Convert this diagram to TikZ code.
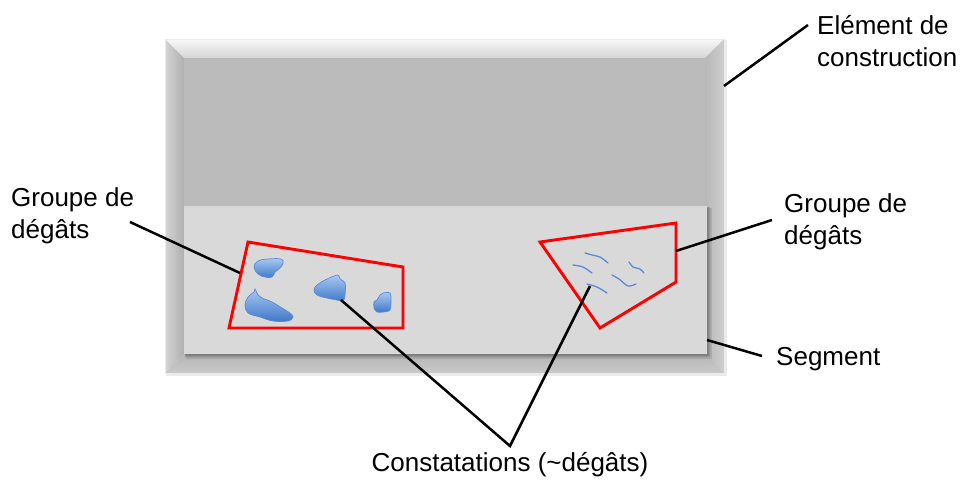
\documentclass[tikz,border=0pt]{standalone}
\usepackage{fontspec}
\setmainfont{Liberation Sans}
\usetikzlibrary{calc}
\definecolor{facegray}{HTML}{BBBBBB}
\definecolor{seggray}{HTML}{D9D9D9}
\definecolor{blobtop}{HTML}{A9C9F3}
\definecolor{blobbot}{HTML}{3F78C8}
\definecolor{blobedge}{HTML}{5A8BD2}
\definecolor{crackc}{HTML}{5B8BD0}
\begin{document}
\begin{tikzpicture}[x=1pt,y=-1pt,
  lbl/.style={font=\fontsize{26}{32}\selectfont, inner sep=0pt, align=left},
  leader/.style={draw=black, line width=2.5pt},
  grp/.style={draw=red, line width=2.9pt, line join=miter},
  blob/.style={draw=blobedge, line width=0.7pt, top color=blobtop, bottom color=blobbot},
  crack/.style={draw=crackc, line width=1.3pt, line cap=round}]
\useasboundingbox (0,0) rectangle (962,480);
\fill[white] (0,0) rectangle (962,480);
% construction element (bevelled box)
\fill[black!8] (166,40) rectangle (727,376);
\shade[top color=black!3, bottom color=black!16] (165,39) -- (724,39) -- (705,58) -- (184,58) -- cycle;
\shade[left color=black!17, right color=black!31] (165,39) -- (184,58) -- (184,354) -- (165,373) -- cycle;
\shade[left color=black!28, right color=black!19] (724,39) -- (724,373) -- (705,354) -- (705,58) -- cycle;
\shade[top color=black!29, bottom color=black!21] (165,373) -- (184,354) -- (705,354) -- (724,373) -- cycle;
\fill[facegray] (184,58) rectangle (705,354);
\draw[black!8, line width=0.8pt] (165,39) rectangle (724,373);
% segment with shadow
\fill[black, opacity=0.10] (186,208) rectangle (712,359);
\fill[black, opacity=0.10] (185,207) rectangle (710,357);
\fill[black, opacity=0.12] (185,207) rectangle (709,356);
\fill[seggray] (184,206) rectangle (707,354);
% damage groups
\draw[grp] (248,242) -- (403,267) -- (403,328) -- (229,328) -- cycle;
\draw[grp] (540,242) -- (676,223) -- (676,282) -- (600,328) -- cycle;
% blobs
\path[blob] plot[smooth cycle, tension=0.7] coordinates {(254,267) (258,261) (268,259) (281,259) (283,263) (280,268) (275,272) (272,277) (265,277) (258,274)};
\path[blob] plot[smooth cycle, tension=0.6] coordinates {(245,305) (248,297) (254,292) (255,289) (258,295) (262,298) (272,302) (282,308) (290,313) (293,317) (288,321) (273,321) (260,317) (248,313)};
\path[blob] plot[smooth cycle, tension=0.6] coordinates {(314,290) (317,285) (327,279) (338,275) (340,279) (345,283) (345,295) (343,301) (337,300) (327,298) (317,295)};
\path[blob] plot[smooth cycle, tension=0.5] coordinates {(374,302) (377,300) (380,295) (383,293) (390,293) (391,300) (390,310) (383,312) (377,312) (374,308)};
% cracks
\draw[crack] plot[smooth] coordinates {(585,253) (592,255) (600,257) (608,263)};
\draw[crack] plot[smooth] coordinates {(573,265) (583,267) (592,273)};
\draw[crack] plot[smooth] coordinates {(629,262) (633,267) (640,269) (644,273)};
\draw[crack] plot[smooth] coordinates {(612,275) (619,279) (628,286) (636,284)};
\draw[crack] plot[smooth] coordinates {(587,284) (597,287) (607,293)};
% labels (base = baseline of last line)
\node[lbl, anchor=base west] (elem) at (817,66) {Elément de\\construction};
\node[lbl, anchor=base west] (grpleft) at (11,238) {Groupe de\\dégâts};
\node[lbl, anchor=base west] (grpright) at (784,244) {Groupe de\\dégâts};
\node[lbl, anchor=base west] (seg) at (776,365) {Segment};
\node[lbl, anchor=base] (const) at (510,471) {Constatations (\char`~dégâts)};
% connector end points
\coordinate (elemBox) at (724,86);
\coordinate (elemTxt) at (808,25);
\coordinate (gLTxt) at (130,222);
\coordinate (gLQuad) at (240,273);
\coordinate (gRTxt) at (772,220);
\coordinate (gRQuad) at (676,251);
\coordinate (segBox) at (707,340);
\coordinate (segTxt) at (762,356);
\coordinate (cBlob) at (341,300);
\coordinate (cCrack) at (590,286);
\coordinate (cMeet) at (510,446);
% connectors
\draw[leader] (elemBox) -- (elemTxt);
\draw[leader] (gLTxt) -- (gLQuad);
\draw[leader] (gRTxt) -- (gRQuad);
\draw[leader] (segBox) -- (segTxt);
\draw[leader, line join=miter] (cBlob) -- (cMeet) -- (cCrack);
\end{tikzpicture}
\end{document}
